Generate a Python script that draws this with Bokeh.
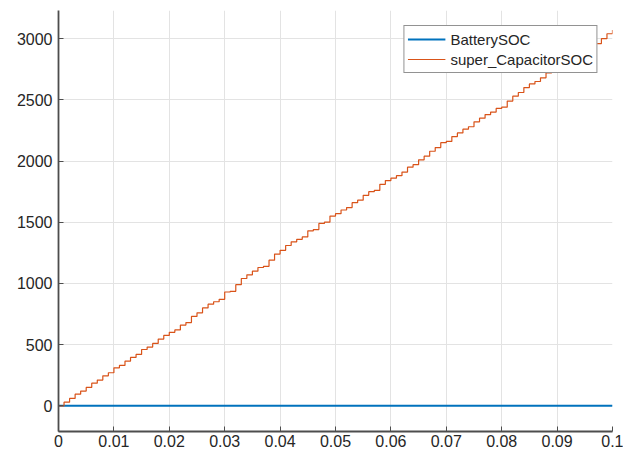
from bokeh.plotting import figure
from bokeh.models import FixedTicker, Legend, LegendItem
from bokeh.embed import file_html
from bokeh.resources import INLINE

# Data
time_s = [0.000, 0.001, 0.002, 0.003, 0.004, 0.005, 0.006, 0.007, 0.008, 0.009,
          0.010, 0.011, 0.012, 0.013, 0.014, 0.015, 0.016, 0.017, 0.018, 0.019,
          0.020, 0.021, 0.022, 0.023, 0.024, 0.025, 0.026, 0.027, 0.028, 0.029,
          0.030, 0.031, 0.032, 0.033, 0.034, 0.035, 0.036, 0.037, 0.038, 0.039,
          0.040, 0.041, 0.042, 0.043, 0.044, 0.045, 0.046, 0.047, 0.048, 0.049,
          0.050, 0.051, 0.052, 0.053, 0.054, 0.055, 0.056, 0.057, 0.058, 0.059,
          0.060, 0.061, 0.062, 0.063, 0.064, 0.065, 0.066, 0.067, 0.068, 0.069,
          0.070, 0.071, 0.072, 0.073, 0.074, 0.075, 0.076, 0.077, 0.078, 0.079,
          0.080, 0.081, 0.082, 0.083, 0.084, 0.085, 0.086, 0.087, 0.088, 0.089,
          0.090, 0.091, 0.092, 0.093, 0.094, 0.095, 0.096, 0.097, 0.098, 0.099,
          0.100]
super_capacitor_soc = [0, 30, 60, 95, 120, 150, 185, 210, 245, 270,
                       310, 330, 365, 395, 420, 460, 480, 510, 545, 575,
                       600, 620, 660, 680, 730, 760, 800, 830, 850, 870,
                       930, 935, 990, 1040, 1070, 1100, 1130, 1140, 1190, 1240,
                       1270, 1310, 1340, 1360, 1380, 1430, 1440, 1490, 1500, 1550,
                       1570, 1600, 1620, 1660, 1680, 1720, 1750, 1760, 1810, 1840,
                       1860, 1880, 1910, 1950, 1970, 2010, 2040, 2080, 2110, 2150,
                       2160, 2200, 2230, 2260, 2280, 2320, 2350, 2380, 2400, 2430,
                       2440, 2490, 2530, 2560, 2600, 2630, 2650, 2680, 2720, 2740,
                       2780, 2800, 2830, 2860, 2880, 2920, 2950, 2960, 3000, 3040,
                       3070]
battery_time = [0.0, 0.1]
battery_soc = [0, 0]

x_ticks = [0, 0.01, 0.02, 0.03, 0.04, 0.05, 0.06, 0.07, 0.08, 0.09, 0.1]
x_tick_labels = ["0", "0.01", "0.02", "0.03", "0.04", "0.05", "0.06", "0.07", "0.08", "0.09", "0.1"]
y_ticks = [0, 500, 1000, 1500, 2000, 2500, 3000]

p = figure(width=623, height=452, output_backend="svg", toolbar_location=None,
           x_range=(0, 0.1), y_range=(-210, 3230),
           min_border_left=58, min_border_right=11, min_border_top=10, min_border_bottom=21)
p.outline_line_color = None
p.background_fill_color = "white"
p.border_fill_color = "white"

r_batt = p.line(battery_time, battery_soc, line_color="#0072BD", line_width=2)
r_cap = p.step(time_s, super_capacitor_soc, mode="after", line_color="#D95319", line_width=1.2)

font = "Liberation Sans"
for ax in (p.xaxis[0], p.yaxis[0]):
    ax.axis_line_color = "#4d4d4d"
    ax.axis_line_width = 1.8
    ax.major_tick_line_color = "#4d4d4d"
    ax.major_tick_in = 5
    ax.major_tick_out = 0
    ax.minor_tick_line_color = None
    ax.major_label_text_font = font
    ax.major_label_text_font_size = "16px"
    ax.major_label_text_color = "#262626"

p.xaxis[0].ticker = FixedTicker(ticks=x_ticks)
p.xaxis[0].major_label_overrides = {t: l for t, l in zip(x_ticks, x_tick_labels)}
p.xaxis[0].major_label_standoff = 3
p.yaxis[0].ticker = FixedTicker(ticks=y_ticks)
p.yaxis[0].major_label_standoff = 6

p.xgrid.grid_line_color = "#e3e3e3"
p.ygrid.grid_line_color = "#e3e3e3"
p.xgrid.grid_line_width = 1
p.ygrid.grid_line_width = 1

legend = Legend(items=[LegendItem(label="BatterySOC", renderers=[r_batt]),
                       LegendItem(label="super_CapacitorSOC", renderers=[r_cap])],
                location="top_right", margin=15, padding=3, spacing=0,
                glyph_width=38, glyph_height=20, label_height=20,
                label_standoff=5, label_text_font=font, label_text_font_size="15px",
                label_text_color="#262626", border_line_color="#262626",
                border_line_width=1, background_fill_color="white",
                background_fill_alpha=1)
p.add_layout(legend)

open("out.html", "w").write(file_html(p, INLINE))
